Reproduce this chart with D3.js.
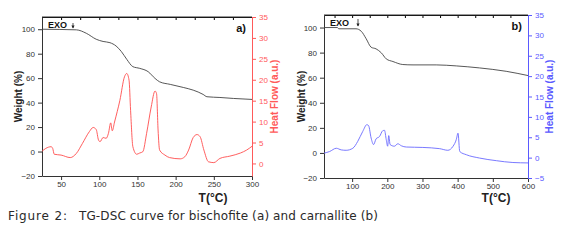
<!DOCTYPE html>
<html>
<head>
<meta charset="utf-8">
<script src="https://cdn.jsdelivr.net/npm/d3@7"></script>
<style>
body { margin: 0; background: #fff; }
svg { display: block; }
</style>
</head>
<body>
<svg width="565" height="249"></svg>
<script>
// panel a) bischofite
var tempA   = [25, 30, 37, 39, 41, 50, 62, 70, 78, 87, 92, 96, 99, 101, 105, 109, 112, 115, 117, 120, 127, 133, 136, 139, 141, 144, 149, 153, 157, 162, 168, 173, 175, 177, 179, 186, 192, 206, 212, 217, 223, 228, 232, 237, 243, 250, 258, 271, 285, 293, 300];
var heatA   = [2.9, 3.6, 4.0, 3.6, 2.2, 2.0, 1.4, 2.4, 4.8, 7.6, 8.6, 8.1, 5.6, 5.2, 6.2, 6.0, 7.2, 9.7, 7.8, 9.9, 15.1, 20.7, 21.5, 19.9, 12.7, 4.0, 2.2, 2.5, 2.8, 7.2, 13.5, 17.3, 16.7, 8.0, 3.2, 2.0, 1.4, 1.1, 1.6, 3.2, 6.2, 6.9, 6.4, 3.2, 0.4, 0.2, 1.2, 1.75, 2.5, 3.2, 4.1];
var tgTempA = [25, 70, 83, 96, 105, 114, 122, 129, 136, 144, 153, 164, 173, 179, 193, 210, 223, 236, 241, 258, 276, 300];
var weightA = [100, 99.5, 96.7, 91.8, 90, 89, 86.3, 81.7, 75.4, 69.4, 68, 65.3, 59.8, 57, 54.9, 52.4, 50.2, 46.7, 44.8, 44.2, 43.4, 42.6];

// panel b) carnallite
var tempB   = [20, 36, 55, 69, 83, 102, 116, 130, 142, 147, 154, 161, 168, 178, 187, 192, 197, 201, 204, 208, 220, 230, 240, 254, 301, 349, 372, 387, 396, 401, 406, 425, 462, 510, 557, 600];
var heatB   = [1.1, 1.5, 2.3, 1.9, 1.8, 2.3, 4.0, 6.4, 8.1, 7.8, 4.8, 3.2, 4.6, 5.2, 6.6, 6.7, 4.4, 2.8, 5.4, 3.2, 2.8, 3.4, 2.9, 2.6, 2.5, 2.2, 1.8, 2.8, 4.4, 6.0, 1.5, 0.7, -0.1, -0.75, -1.2, -1.3];
var tgTempB = [20, 58, 62, 111, 126, 140, 154, 168, 183, 197, 216, 244, 273, 339, 396, 462, 538, 600];
var weightB = [100, 100, 99, 99, 97, 91, 84.3, 83, 79.8, 75, 72.9, 70.5, 70.2, 70.2, 69.4, 67.8, 65.1, 61.7];

var xTicksA = [50, 100, 150, 200, 250, 300];
var xTicksB = [100, 200, 300, 400, 500, 600];
var weightTicks = [-20, 0, 20, 40, 60, 80, 100];
var heatTicksA = [0, 5, 10, 15, 20, 25, 30, 35];
var heatTicksB = [-5, 0, 5, 10, 15, 20, 25, 30, 35];

var svg = d3.select("svg");
var font = "Liberation Sans, Arial, sans-serif";

function panel(p) {
	var x = d3.scaleLinear().domain(p.xDomain).range([p.left, p.right]);
	var yW = d3.scaleLinear().domain([-20, 110]).range([p.bottom, p.top]);
	var yH = d3.scaleLinear().domain(p.hDomain).range([p.bottom, p.top]);
	var g = svg.append("g").attr("class", "panel");

	var minorX = d3.range(p.xTicks[0] - p.xStep / 2, p.xDomain[1] + 0.1, p.xStep / 2)
		.filter(function(v) { return v >= p.xDomain[0]; });

	// bottom axis
	var bx = g.append("g").attr("transform", "translate(0," + p.bottom + ")")
		.call(d3.axisBottom(x).tickValues(minorX).tickSize(3).tickFormat(""));
	bx.call(d3.axisBottom(x).tickValues(p.xTicks).tickSize(4).tickPadding(1).tickSizeOuter(0));
	// top axis (ticks inward)
	g.append("g").attr("transform", "translate(0," + p.top + ")")
		.call(d3.axisBottom(x).tickValues(minorX).tickSize(3).tickFormat("").tickSizeOuter(0));
	g.append("line").attr("x1", p.left).attr("x2", p.right).attr("y1", p.top).attr("y2", p.top)
		.attr("stroke", "#333");

	// left axis
	var la = g.append("g").attr("transform", "translate(" + p.left + ",0)");
	la.call(d3.axisLeft(yW).tickValues(d3.range(-20, 111, 10)).tickSize(2).tickFormat("").tickSizeOuter(0));
	la.call(d3.axisLeft(yW).tickValues(weightTicks).tickSize(4).tickSizeOuter(0));

	// right axis
	var ra = g.append("g").attr("transform", "translate(" + p.right + ",0)");
	ra.call(d3.axisRight(yH).tickValues(d3.range(p.hTicks[0], 35.1, 2.5)).tickSize(2).tickFormat("").tickSizeOuter(0));
	ra.call(d3.axisRight(yH).tickValues(p.hTicks).tickSize(4).tickSizeOuter(0));
	ra.selectAll("path, line").attr("stroke", p.color);
	ra.selectAll("text").attr("fill", p.color);

	g.selectAll(".tick text").attr("font-family", font).attr("font-size", 8);
	bx.selectAll("text").attr("fill", "#333");
	la.selectAll("text").attr("fill", "#333");
	bx.selectAll("path, line").attr("stroke", "#333");
	la.selectAll("path, line").attr("stroke", "#333");

	// curves
	var lineW = d3.line().x(function(d) { return x(d[0]); }).y(function(d) { return yW(d[1]); }).curve(d3.curveMonotoneX);
	var lineH = d3.line().x(function(d) { return x(d[0]); }).y(function(d) { return yH(d[1]); }).curve(d3.curveMonotoneX);

	g.append("path").datum(d3.zip(p.tgTemp, p.weight))
		.attr("d", lineW).attr("fill", "none").attr("stroke", "#444").attr("stroke-width", 0.9);
	g.append("path").datum(d3.zip(p.temp, p.heat))
		.attr("d", lineH).attr("fill", "none").attr("stroke", p.lineColor).attr("stroke-width", 0.9);

	// titles
	g.append("text")
		.attr("transform", "translate(" + p.wTitleX + "," + ((p.top + p.bottom) / 2) + ") rotate(-90)")
		.attr("text-anchor", "middle").attr("font-family", font).attr("font-weight", "bold")
		.attr("font-size", 10).attr("fill", "#222").text("Weight (%)");
	g.append("text")
		.attr("transform", "translate(" + p.hTitleX + "," + ((p.top + p.bottom) / 2) + ") rotate(-90)")
		.attr("text-anchor", "middle").attr("font-family", font).attr("font-weight", "bold")
		.attr("font-size", 10).attr("fill", p.color).text("Heat Flow (a.u.)");
	g.append("text")
		.attr("x", p.tTitleX).attr("y", 202)
		.attr("text-anchor", "middle").attr("font-family", font).attr("font-weight", "bold")
		.attr("font-size", 12).attr("fill", "#222").text("T(°C)");

	// EXO label and panel letter
	g.append("text").attr("x", p.left + 6).attr("y", p.top + 11)
		.attr("font-family", font).attr("font-weight", "bold").attr("font-size", 9)
		.attr("fill", "#111").text("EXO");
	g.append("line").attr("x1", p.arrowX).attr("x2", p.arrowX)
		.attr("y1", p.top + p.arrowTop).attr("y2", p.top + 11)
		.attr("stroke", "#222").attr("stroke-width", 0.8);
	g.append("path")
		.attr("d", "M" + (p.arrowX - 1.6) + "," + (p.top + 8.5) + " L" + (p.arrowX + 1.6) + "," + (p.top + 8.5) + " L" + p.arrowX + "," + (p.top + 11.5) + " Z")
		.attr("fill", "#222");
	g.append("text").attr("x", p.right - 6).attr("y", p.top + 15)
		.attr("text-anchor", "end").attr("font-family", font).attr("font-weight", "bold")
		.attr("font-size", 11).attr("fill", "#111").text(p.letter);
}

panel({
	left: 42, right: 252, top: 17, bottom: 176,
	xDomain: [25, 300], xTicks: xTicksA, xStep: 50,
	hDomain: [-3, 35], hTicks: heatTicksA,
	temp: tempA, heat: heatA, tgTemp: tgTempA, weight: weightA,
	color: "#ff5a5a", lineColor: "#ff4d4d",
	wTitleX: 22, hTitleX: 278, tTitleX: 213,
	arrowX: 73, arrowTop: 6, letter: "a)"
});

panel({
	left: 324, right: 528, top: 15, bottom: 178,
	xDomain: [20, 600], xTicks: xTicksB, xStep: 100,
	hDomain: [-5, 35], hTicks: heatTicksB,
	temp: tempB, heat: heatB, tgTemp: tgTempB, weight: weightB,
	color: "#5a5aff", lineColor: "#6a6aff",
	wTitleX: 305, hTitleX: 553, tTitleX: 496,
	arrowX: 358, arrowTop: 4, letter: "b)"
});

// caption
var cap = svg.append("g").attr("font-family", "DejaVu Sans, sans-serif").attr("font-size", 12).attr("fill", "#2a2a2a");
cap.append("text").attr("x", 8).attr("y", 220).attr("textLength", 59).text("Figure 2:");
cap.append("text").attr("x", 79).attr("y", 220).attr("textLength", 299).text("TG-DSC curve for bischofite (a) and carnallite (b)");
</script>
</body>
</html>
